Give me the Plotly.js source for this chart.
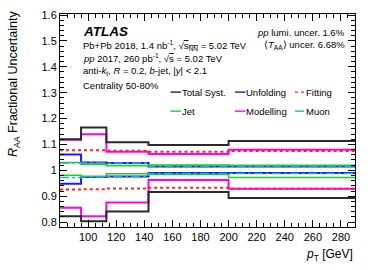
<!DOCTYPE html>
<html><head><meta charset="utf-8">
<script src="https://cdn.plot.ly/plotly-3.0.1.min.js"></script>
<style>html,body{margin:0;padding:0;background:#fff;}#c{width:374px;height:270px;}</style>
</head><body><div id="c"></div>
<script>
// Bin edges (GeV)
const binEdges = [80, 95, 113, 143, 200, 290];
// Upper / lower fractional uncertainty bands per bin
const totalUp = [1.120, 1.165, 1.108, 1.098, 1.113];
const totalDn = [0.823, 0.803, 0.841, 0.916, 0.893];
const modelUp = [1.118, 1.139, 1.072, 1.063, 1.079];
const modelDn = [0.855, 0.823, 0.876, 0.963, 0.929];
const unfoldUp = [1.061, 1.030, 1.028, 1.015, 1.015];
const unfoldDn = [0.948, 0.974, 0.976, 0.990, 0.990];
const jetUp = [1.030, 1.023, 1.018, 1.020, 1.019];
const jetDn = [0.981, 0.977, 0.987, 0.984, 0.972];
const muonUp = [1.028, 1.028, 1.028, 1.015, 1.015];
const muonDn = [0.972, 0.974, 0.975, 0.988, 0.988];
const fitUp = [1.078, 1.078, 1.076, 1.072, 1.075];
const fitDn = [0.926, 0.927, 0.930, 0.933, 0.929];
const xTickVals = [100, 120, 140, 160, 180, 200, 220, 240, 260, 280];
const yTickVals = [0.8, 0.9, 1.0, 1.1, 1.2, 1.3, 1.4, 1.5, 1.6];
const yTickText = ['0.8','0.9','1','1.1','1.2','1.3','1.4','1.5','1.6'];

const series = [
  {name:'Modelling', up:modelUp, dn:modelDn, color:'#ff00ff', dash:'solid', width:2},
  {name:'Unfolding', up:unfoldUp, dn:unfoldDn, color:'#1a1aff', dash:'solid', width:2},
  {name:'Jet', up:jetUp, dn:jetDn, color:'#22cc22', dash:'solid', width:1.6},
  {name:'Muon', up:muonUp, dn:muonDn, color:'#22b0c8', dash:'dashdot', width:1.6},
  {name:'Fitting', up:fitUp, dn:fitDn, color:'#ff2020', dash:'dot', width:2},
  {name:'Total Syst.', up:totalUp, dn:totalDn, color:'#2a2a2a', dash:'solid', width:2}
];
function stepY(v){ return v.concat([v[v.length-1]]); }
const traces = [];
series.forEach(s=>{
  [s.up, s.dn].forEach(v=>{
    traces.push({x:binEdges, y:stepY(v), type:'scatter', mode:'lines',
      line:{shape:'hv', color:s.color, width:s.width, dash:s.dash},
      showlegend:false, hoverinfo:'skip'});
  });
});

const W=374,H=270, L=60, R=355, T=14, B=226.7;
const px = x => (x-L)/(R-L);
const py = y => (B-y)/(B-T);
const F = 'Liberation Sans, Arial, Helvetica, sans-serif';
const ann = [];
function txt(t, x, y, size, anchor, extra){
  ann.push(Object.assign({text:t, xref:'paper', yref:'paper', x:px(x), y:py(y),
    xanchor:anchor||'left', yanchor:'middle', showarrow:false,
    font:{family:F, size:size, color:'#000'}}, extra||{}));
}
txt('<b><i>ATLAS</i></b>', 81, 31.5, 13.5);
txt('Pb+Pb 2018, 1.4 nb<sup>-1</sup>, √<span style="text-decoration:overline">s<sub>NN</sub></span> = 5.02 TeV', 81, 45, 9.5);
txt('<i>pp</i> 2017, 260 pb<sup>-1</sup>, √<span style="text-decoration:overline">s</span> = 5.02 TeV', 81, 58, 9.5);
txt('anti-<i>k</i><sub>t</sub>, <i>R</i> = 0.2, <i>b</i>-jet, |<i>y</i>| &lt; 2.1', 81, 71, 9.5);
txt('Centrality 50-80%', 81, 85, 9.5);
txt('<i>pp</i> lumi. uncer. 1.6%', 347, 32, 9.5, 'right');
txt('⟨<i>T</i><sub>AA</sub>⟩ uncer. 6.68%', 347, 45, 9.5, 'right');

const shapes = [];
const legend = [
  ['Total Syst.', 170.5, 92, '#2a2a2a', 'solid'],
  ['Unfolding', 235, 92, '#1a1aff', 'solid'],
  ['Fitting', 295, 92, '#ff2020', 'dot'],
  ['Jet', 170.5, 111, '#22cc22', 'solid'],
  ['Modelling', 235, 111, '#ff00ff', 'solid'],
  ['Muon', 295, 111, '#22b0c8', 'dashdot']
];
legend.forEach(([n,x,y,c,d])=>{
  shapes.push({type:'line', xref:'paper', yref:'paper', x0:px(x), x1:px(x+10.5), y0:py(y), y1:py(y),
    line:{color:c, width:1.4, dash:d}});
  txt(n, x+9, y, 9.5);
});

const layout = {
  width:W, height:H, margin:{l:L, r:W-R, t:T, b:H-B},
  paper_bgcolor:'#fff', plot_bgcolor:'#fff',
  font:{family:F, size:11, color:'#000'},
  xaxis:{range:[80,290], tickvals:xTickVals, ticks:'inside', ticklen:7, tickcolor:'#000',
    mirror:'ticks', showline:true, linecolor:'#000', linewidth:1, showgrid:false, zeroline:false,
    tickfont:{family:F, size:11}, minor:{dtick:5, ticks:'inside', ticklen:4, tickcolor:'#000', showgrid:false},
    title:{text:''}},
  yaxis:{range:[0.781, 1.604], tickvals:yTickVals, ticktext:yTickText,
    ticks:'inside', ticklen:7, tickcolor:'#000',
    mirror:'ticks', showline:true, linecolor:'#000', linewidth:1, showgrid:false, zeroline:false,
    tickfont:{family:F, size:11}, minor:{dtick:0.02, ticks:'inside', ticklen:4, tickcolor:'#000', showgrid:false},
    title:{text:''}},
  annotations: ann.concat([
    {text:'<i>R</i><sub>AA</sub> Fractional Uncertainty', xref:'paper', yref:'paper', x:px(14), y:py(84),
      xanchor:'center', yanchor:'middle', textangle:-90, showarrow:false, font:{family:F, size:12.5}},
    {text:'<i>p</i><sub>T</sub> [GeV]', xref:'paper', yref:'paper', x:px(355), y:py(255),
      xanchor:'right', yanchor:'middle', showarrow:false, font:{family:F, size:12}}
  ]),
  shapes: shapes
};
Plotly.newPlot('c', traces, layout, {staticPlot:true, displayModeBar:false});
</script></body></html>
